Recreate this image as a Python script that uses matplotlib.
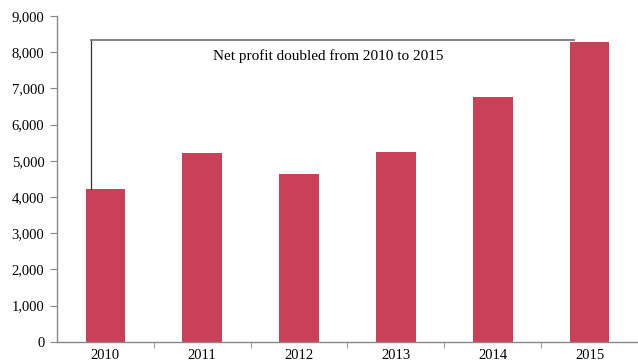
import matplotlib.pyplot as plt
import numpy as np

years = ["2010", "2011", "2012", "2013", "2014", "2015"]
net_profit = [4220, 5210, 4640, 5240, 6760, 8290]
note_level = 8330
note_text = "Net profit doubled from 2010 to 2015"

plt.rcParams['font.family'] = ['Liberation Serif', 'DejaVu Serif']

fig = plt.figure(figsize=(6.38, 3.6), dpi=100)
ax = fig.add_axes([0.0893, 0.0508, 0.9107, 0.9048])

x = np.arange(len(years))
ax.bar(x, net_profit, width=0.41, color='#C94156', zorder=2)

ax.set_xlim(-0.5, len(years) - 0.5)
ax.set_ylim(0, 9000)
ax.set_yticks(np.arange(0, 9001, 1000))
ax.set_yticklabels([f"{v:,}" for v in range(0, 9001, 1000)], fontsize=10.5)

# year labels centred under bars, tick marks between categories
ax.set_xticks(x)
ax.set_xticklabels(years, fontsize=10.5)
ax.set_xticks(np.arange(0.5, len(years) - 1), minor=True)
ax.tick_params(axis='x', which='major', length=0, pad=5)
ax.tick_params(axis='x', which='minor', length=4, color='#888888', direction='out')
ax.tick_params(axis='y', length=5, color='#888888', direction='out', pad=4)

for side in ['top', 'right']:
    ax.spines[side].set_visible(False)
for side in ['left', 'bottom']:
    ax.spines[side].set_color('#888888')
    ax.spines[side].set_linewidth(1.0)

# bracket from the first bar over to the last one
x0 = x[0] - 0.15
x1 = x[-1] - 0.16
ax.plot([x0, x0], [net_profit[0], note_level], color='#333333', lw=0.9, zorder=3)
ax.plot([x0, x1], [note_level, note_level], color='#777777', lw=1.3, zorder=3)
ax.text(2.3, 7880, note_text, ha='center', va='center', fontsize=11)

fig.savefig('out.png', dpi=100)
